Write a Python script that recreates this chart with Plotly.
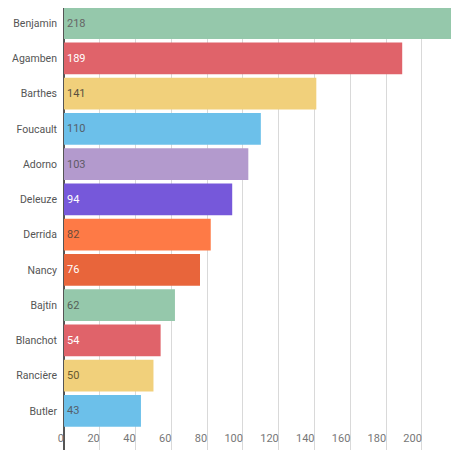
import plotly.graph_objects as go

# datos (de arriba hacia abajo)
autores = ['Benjamin', 'Agamben', 'Barthes', 'Foucault', 'Adorno', 'Deleuze',
           'Derrida', 'Nancy', 'Bajtín', 'Blanchot', 'Rancière', 'Butler']
valores = [218, 189, 141, 110, 103, 94, 82, 76, 62, 54, 50, 43]
colores = ['#95c8ab', '#e0636a', '#f1d07b', '#6cc0ea', '#b39acd', '#7658da',
           '#fe7a46', '#e8653b', '#95c8ab', '#e0636a', '#f1d07b', '#6cc0ea']
color_texto = ['#666666', '#ffffff', '#5a5040', '#555f6a', '#5f5a66', '#ffffff',
               '#6a4a3a', '#ffffff', '#555f58', '#ffffff', '#6a5a30', '#555f6a']
ticks_x = [0, 20, 40, 60, 80, 100, 120, 140, 160, 180, 200]

fig = go.Figure(go.Bar(
    x=valores, y=autores, orientation='h',
    marker=dict(color=colores, line=dict(width=0)),
    text=[str(v) for v in valores],
    textposition='inside', insidetextanchor='start',
    textfont=dict(color=color_texto, size=11, family='Roboto'),
    constraintext='none',
))

# la página ya deja 8px de margen, por eso el tamaño es menor
fig.update_layout(
    width=451, height=444,
    margin=dict(l=56, r=4, t=0, b=2),
    plot_bgcolor='white', paper_bgcolor='white',
    bargap=0.1,
    showlegend=False,
    font=dict(family='Roboto', size=11, color='#555555'),
)
fig.update_xaxes(
    range=[0, 218.5], tickvals=ticks_x, automargin=False,
    showgrid=True, gridcolor='#d9d9d9', gridwidth=1,
    zeroline=True, zerolinecolor='#555555', zerolinewidth=2,
    ticklabelposition='inside left', ticklabeloverflow='allow',
    tickfont=dict(color='#777777', size=11),
)
fig.update_yaxes(
    categoryorder='array', categoryarray=autores[::-1], automargin=False,
    range=[-1.11, 11.43], showgrid=False, zeroline=False,
    ticks='', ticklabelstandoff=6,
    tickfont=dict(color='#555555', size=10.5),
)

fig.write_html('out.html')
